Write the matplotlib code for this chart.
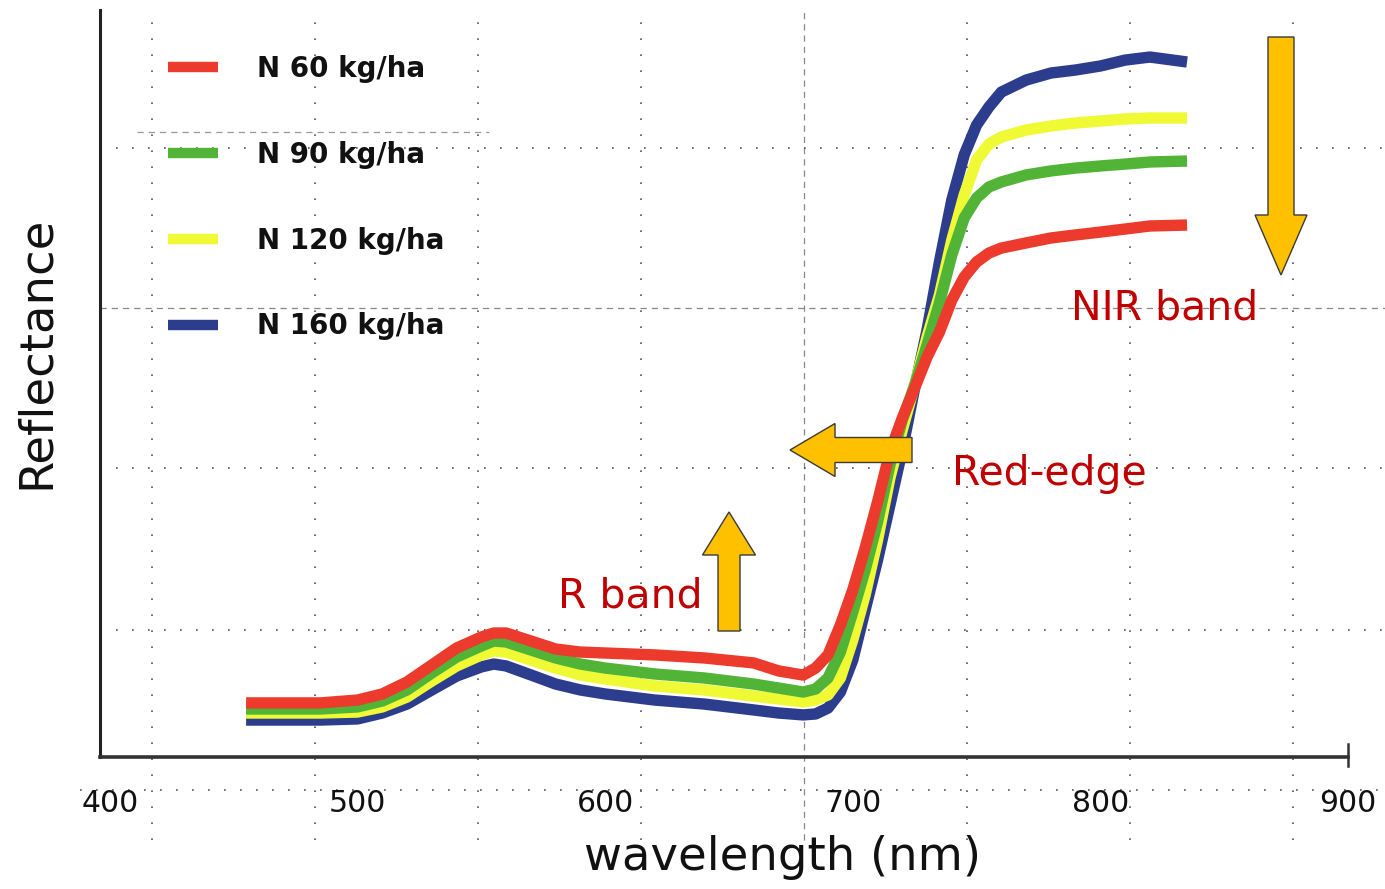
import numpy as np
import matplotlib
matplotlib.use("Agg")
import matplotlib.pyplot as plt
from matplotlib.patches import Polygon

# ---------------- data ----------------
wavelength = [455, 470, 485, 500, 510, 520, 530, 540, 550, 555, 560, 570, 580, 590,
              600, 620, 640, 660, 670, 680, 685, 690, 695, 700, 705, 710, 715, 720,
              725, 730, 735, 740, 745, 750, 755, 760, 770, 780, 790, 800, 810, 820, 835]

n60 = [3.38, 3.38, 3.38, 3.56, 3.94, 4.69, 5.75, 6.81, 7.50, 7.75, 7.75, 7.25, 6.75, 6.56,
       6.50, 6.38, 6.19, 5.88, 5.38, 5.12, 5.56, 6.38, 8.25, 10.44, 13.06, 15.94, 19.06, 21.19,
       23.06, 25.00, 26.56, 28.56, 30.00, 30.94, 31.50, 31.81, 32.13, 32.44, 32.63, 32.81, 33.00, 33.19, 33.25]

n90 = [3.00, 3.00, 3.00, 3.13, 3.50, 4.19, 5.25, 6.25, 6.94, 7.25, 7.19, 6.69, 6.19, 5.81,
       5.56, 5.19, 4.94, 4.56, 4.31, 4.06, 4.25, 4.94, 6.56, 9.06, 11.69, 14.69, 18.25, 21.06,
       23.25, 25.75, 28.38, 31.38, 33.69, 34.94, 35.63, 35.94, 36.38, 36.63, 36.81, 36.94, 37.06, 37.19, 37.25]

n120 = [2.75, 2.75, 2.75, 2.81, 3.13, 3.75, 4.75, 5.69, 6.38, 6.63, 6.56, 6.06, 5.56, 5.13,
        4.88, 4.44, 4.19, 3.81, 3.63, 3.44, 3.56, 3.88, 4.94, 7.31, 10.13, 13.56, 17.44, 20.44,
        23.25, 26.25, 28.88, 32.31, 35.13, 37.31, 38.31, 38.75, 39.19, 39.44, 39.63, 39.75, 39.88, 39.94, 39.94]

n160 = [2.31, 2.31, 2.31, 2.38, 2.75, 3.31, 4.19, 5.06, 5.63, 5.81, 5.69, 5.13, 4.56, 4.19,
        3.94, 3.56, 3.31, 2.94, 2.75, 2.63, 2.69, 3.06, 4.06, 6.06, 9.19, 12.31, 15.75, 19.19,
        23.06, 26.69, 30.94, 34.81, 37.63, 39.50, 40.63, 41.56, 42.31, 42.75, 42.94, 43.19, 43.56, 43.75, 43.44]

series_labels = ["N 60 kg/ha", "N 90 kg/ha", "N 120 kg/ha", "N 160 kg/ha"]
series_colors = ["#EC3A2C", "#52B436", "#EFFA34", "#2C3D8E"]
xtick_values = [400, 500, 600, 700, 800, 900]

# ---------------- figure ----------------
W, H = 1385, 889
fig = plt.figure(figsize=(W / 100, H / 100), dpi=100)
fig.patch.set_facecolor("white")
ax = fig.add_axes([100 / W, 1 - 757 / H, 1248 / W, 747 / H])
ax.set_facecolor("none")

ax.set_xlim(396, 900)
ax.set_ylim(0, 46.69)

# grid (dotted, extending past the axes like in the reference)
dot = (0, (1, 8.6))
vgrid = [417.0 + 65.8 * k for k in range(8)]
for i, xv in enumerate(vgrid):
    if i == 4:
        ax.axvline(xv, ymin=-0.111, ymax=1, clip_on=False, color="#888888",
                   lw=0.9, ls=(0, (5, 4)), zorder=0)
    else:
        ax.axvline(xv, ymin=-0.111, ymax=1, clip_on=False, color="#555555",
                   lw=1.2, ls=dot, zorder=0)
hgrid = [38.06, 28.06, 18.06, 7.94]
for j, yv in enumerate(hgrid):
    if j == 1:
        ax.axhline(yv, xmin=0, xmax=1.03, clip_on=False, color="#888888",
                   lw=0.9, ls=(0, (5, 4)), zorder=0)
    else:
        ax.axhline(yv, xmin=0, xmax=1.03, clip_on=False, color="#555555",
                   lw=1.2, ls=dot, zorder=0)
ax.axhline(-2.06, xmin=-0.016, xmax=1.03, clip_on=False, color="#555555",
           lw=1.2, ls=dot, zorder=0)
ax.hlines(39.06, 411, 553, color="#999999", lw=0.9, ls=(0, (5, 4)), zorder=0)

# curves (blue at bottom, red on top)
data = [n60, n90, n120, n160]
handles = []
for k in [3, 2, 1, 0]:
    ln, = ax.plot(wavelength, data[k], color=series_colors[k], lw=8.2,
                  solid_capstyle="butt", solid_joinstyle="round",
                  label=series_labels[k], zorder=3 + (3 - k))
    handles.append((k, ln))
handles = [h for _, h in sorted(handles, key=lambda t: t[0])]

# axes styling
for s in ["top", "right"]:
    ax.spines[s].set_visible(False)
ax.spines["left"].set_color("#222222")
ax.spines["left"].set_linewidth(2.2)
ax.spines["bottom"].set_color("#333333")
ax.spines["bottom"].set_linewidth(2.6)
ax.axvline(900, ymin=-0.012, ymax=0.018, clip_on=False, color="#333333", lw=1.8)
ax.set_yticks([])
ax.set_xticks(xtick_values)
ax.set_xticklabels([str(v) for v in xtick_values])
ax.tick_params(axis="x", length=0, pad=23, labelsize=21.5, labelcolor="#111111")
for lbl in ax.get_xticklabels():
    lbl.set_fontweight("medium")

# axis titles
fig.text(782 / W, 1 - 858 / H, "wavelength (nm)", ha="center", va="center",
         fontsize=33.5, color="#111111")
fig.text(36 / W, 1 - 352 / H, "Reflectance", ha="center", va="center",
         rotation=90, fontsize=33.5, color="#111111")

# legend
leg = ax.legend(handles=handles, loc="upper left",
                bbox_to_anchor=(168 / W, 1 - 55 / H), bbox_transform=fig.transFigure,
                frameon=False, borderpad=0, borderaxespad=0,
                handlelength=1.8, handletextpad=1.4, labelspacing=2.08,
                prop={"size": 20, "weight": "bold"})
for t in leg.get_texts():
    t.set_color("#111111")
for lh in leg.get_lines():
    lh.set_linewidth(7.5)

# arrows (figure pixel coordinates, origin top-left)
def arrow(tail, tip, shaft_hw, head_hw, head_len):
    tx, ty = tail
    px, py = tip
    d = np.array([px - tx, py - ty], float)
    L = np.hypot(*d)
    u = d / L
    n = np.array([-u[1], u[0]])
    base = np.array(tip) - u * head_len
    t = np.array(tail, float)
    pts = [t + n * shaft_hw, base + n * shaft_hw, base + n * head_hw, np.array(tip, float),
           base - n * head_hw, base - n * shaft_hw, t - n * shaft_hw]
    pts = [(p[0] / W, 1 - p[1] / H) for p in pts]
    fig.patches.append(Polygon(pts, closed=True, transform=fig.transFigure,
                               facecolor="#FFC000", edgecolor="#3A3A3A", lw=1.0, zorder=10))

arrow((1281, 37), (1281, 275), 13, 26, 60)
arrow((912, 450), (790, 450), 12.5, 26.5, 45)
arrow((729, 631), (729, 512), 11, 26.5, 43)

# annotations
red_txt = "#C00000"
fig.text(1165 / W, 1 - 308 / H, "NIR band", ha="center", va="center", fontsize=29.5, color=red_txt)
fig.text(1049 / W, 1 - 474 / H, "Red-edge", ha="center", va="center", fontsize=29.5, color=red_txt)
fig.text(630 / W, 1 - 596 / H, "R band", ha="center", va="center", fontsize=29.5, color=red_txt)

fig.savefig("out.png", dpi=100, facecolor="white")
